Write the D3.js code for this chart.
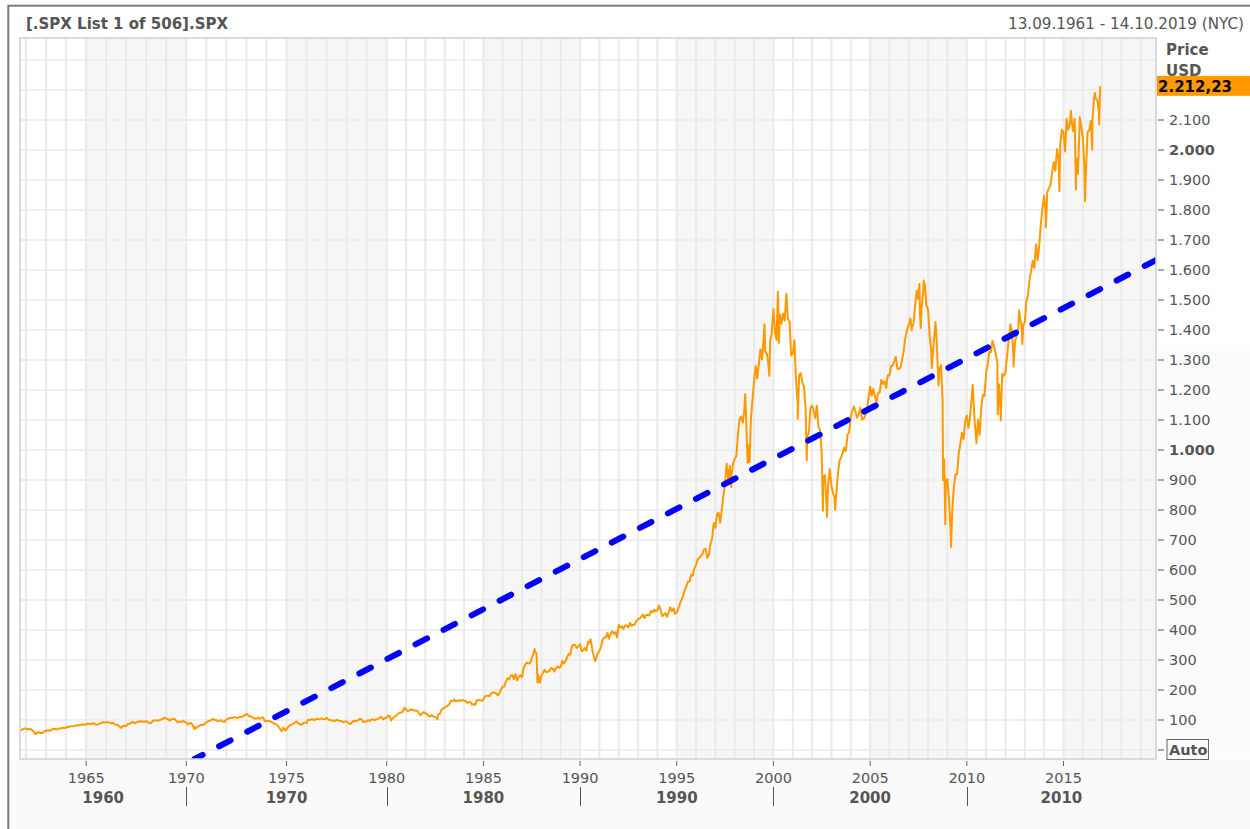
<!DOCTYPE html>
<html><head><meta charset="utf-8">
<script src="https://cdn.jsdelivr.net/npm/d3@7"></script>
<style>body{margin:0;background:#fff}svg{display:block}text{font-family:"DejaVu Sans",Verdana,sans-serif}</style>
</head><body><svg id="c" width="1250" height="829"></svg>
<script>
// ---------------- DATA ----------------
const titleText = "[.SPX List 1 of 506].SPX";
const dateRangeText = "13.09.1961 - 14.10.2019 (NYC)";
const axisTitle = ["Price", "USD"];
const lastValueText = "2.212,23";
const lastValue = 2212.23;
const yTickValues = [100,200,300,400,500,600,700,800,900,1000,1100,1200,1300,1400,1500,1600,1700,1800,1900,2000,2100,2200];
const yTickLabels = ["100","200","300","400","500","600","700","800","900","1.000","1.100","1.200","1.300","1.400","1.500","1.600","1.700","1.800","1.900","2.000","2.100","2.200"];
const yBoldTicks = [1000, 2000];
const minorYearTicks = [1965,1970,1975,1980,1985,1990,1995,2000,2005,2010,2015];
const decadeStarts = [1960,1970,1980,1990,2000,2010];
const decadeLabels = ["1960","1970","1980","1990","2000","2010"];
const shadedBandStarts = [1965,1975,1985,1995,2005,2015];
const dataStart = "1961-09-13";
const axisEnd = "2019-10-14";

// S&P 500 monthly closes, from Sep 1961
const close1960s = [66.73,68.62,71.32,71.55,
 68.84,69.96,69.55,65.24,59.63,54.75,58.23,59.12,56.27,56.52,62.26,63.10,
 66.20,64.29,66.57,69.80,70.80,69.37,69.13,72.50,71.70,74.01,73.23,75.02,
 77.04,77.80,78.98,79.46,80.37,81.69,83.18,81.83,84.18,84.86,84.42,84.75,
 87.56,87.43,86.16,89.11,88.42,84.12,85.25,87.17,89.96,92.42,91.61,92.43,
 92.88,91.22,89.23,91.06,86.13,84.74,83.60,77.10,76.56,80.20,80.45,80.33,
 86.61,86.78,90.20,94.01,89.08,90.64,94.75,93.64,96.71,93.90,94.00,96.47,
 92.24,89.36,90.20,97.59,98.68,99.58,97.74,98.86,102.67,103.41,108.37,103.86,
 103.01,98.13,101.51,103.69,103.46,97.71,91.83,95.51,93.12,97.24,93.81,92.06];
const close1970s = [
 85.02,89.50,89.63,81.52,76.55,72.72,78.05,81.52,84.21,83.25,87.20,92.15,
 95.88,96.75,100.31,103.95,99.63,99.70,95.58,99.03,98.34,94.23,93.99,102.09,
 103.94,106.57,107.20,107.67,109.53,107.14,107.39,111.09,110.55,111.58,116.67,118.05,
 116.03,111.68,111.52,106.97,104.95,104.26,108.22,104.25,108.43,108.29,95.96,97.55,
 96.57,96.22,93.98,90.31,87.28,86.00,79.31,72.15,63.54,73.90,69.97,68.56,
 76.98,81.59,83.36,87.30,91.15,95.19,88.75,86.88,83.87,89.04,91.24,90.19,
 100.86,99.71,102.77,101.64,100.18,104.28,103.44,102.91,105.24,102.90,102.10,107.46,
 102.03,99.82,98.42,98.44,96.12,100.48,98.85,96.77,96.53,92.34,94.83,95.10,
 89.25,87.04,89.21,96.83,97.24,95.53,100.68,103.29,102.54,93.15,94.70,96.11,
 99.93,96.28,101.59,101.76,99.08,102.91,103.81,109.32,109.32,101.82,106.16,107.94];
const close1980s = [
 114.16,113.66,102.09,106.29,111.24,114.24,121.67,122.38,125.46,127.47,140.52,135.76,
 129.55,131.27,136.00,132.81,132.59,131.21,130.92,122.79,116.18,121.89,126.35,122.55,
 120.40,113.11,111.96,116.44,111.88,109.61,107.09,119.51,120.42,133.71,138.54,140.64,
 145.30,148.06,152.96,164.42,162.39,168.11,162.56,164.40,166.07,163.55,166.40,164.93,
 163.41,157.06,159.18,160.05,150.55,153.18,150.66,166.68,166.10,166.09,163.58,167.24,
 179.63,181.18,180.66,179.83,189.55,191.85,190.92,188.63,182.08,189.82,202.17,211.28,
 211.78,226.92,238.90,235.52,247.35,250.84,236.12,252.93,231.32,243.98,249.22,242.17,
 274.08,284.20,291.70,288.36,290.10,304.00,318.66,329.80,321.83,251.79,230.30,247.08,
 257.07,267.82,258.89,261.33,262.16,273.50,272.02,261.52,271.91,278.97,273.70,277.72,
 297.47,288.86,294.87,309.64,320.52,317.98,346.08,351.45,349.15,340.36,345.99,353.40];
const close1990s = [
 329.08,331.89,339.94,330.80,361.23,358.02,356.15,322.56,306.05,304.00,322.22,330.22,
 343.93,367.07,375.22,375.35,389.83,371.16,387.81,395.43,387.86,392.45,375.22,417.09,
 408.79,412.70,403.69,414.95,415.35,408.14,424.21,414.03,417.80,418.68,431.35,435.71,
 438.78,443.38,451.67,440.19,450.19,450.53,448.13,463.56,458.93,467.83,461.79,466.45,
 481.61,467.14,445.77,450.91,456.50,444.27,458.26,475.49,462.69,472.35,453.69,459.27,
 470.42,487.39,500.71,514.71,533.40,544.75,562.06,561.88,584.41,581.50,605.37,615.93,
 636.02,640.43,645.50,654.17,669.12,670.63,639.95,651.99,687.31,705.27,757.02,740.74,
 786.16,790.82,757.12,801.34,848.28,885.14,954.31,899.47,947.28,914.62,955.40,970.43,
 980.28,1049.34,1101.75,1111.75,1090.82,1133.84,1120.67,957.28,1017.01,1098.67,1163.63,1229.23,
 1279.64,1238.33,1286.37,1335.18,1301.84,1372.71,1328.72,1320.41,1282.71,1362.93,1388.91,1469.25];
const close2000s = [
 1394.46,1366.42,1498.58,1452.43,1420.60,1454.60,1430.83,1517.68,1436.51,1429.40,1314.95,1320.28,
 1366.01,1239.94,1160.33,1249.46,1255.82,1224.38,1211.23,1133.58,1040.94,1059.78,1139.45,1148.08,
 1130.20,1106.73,1147.39,1076.92,1067.14,989.82,911.62,916.07,815.28,885.76,936.31,879.82,
 855.70,841.15,848.18,916.92,963.59,974.50,990.31,1008.01,995.97,1050.71,1058.20,1111.92,
 1131.13,1144.94,1126.21,1107.30,1120.68,1140.84,1101.72,1104.24,1114.58,1130.20,1173.82,1211.92,
 1181.27,1203.60,1180.59,1156.85,1191.50,1191.33,1234.18,1220.33,1228.81,1207.01,1249.48,1248.29,
 1280.08,1280.66,1294.83,1310.61,1270.09,1270.20,1276.66,1303.82,1335.85,1377.94,1400.63,1418.30,
 1438.24,1406.82,1420.86,1482.37,1530.62,1503.35,1455.27,1473.99,1526.75,1549.38,1481.14,1468.36,
 1378.55,1330.63,1322.70,1385.59,1400.38,1280.00,1267.38,1282.83,1166.36,968.75,896.24,903.25,
 825.88,735.09,797.87,872.81,919.14,919.32,987.48,1020.62,1057.08,1036.19,1095.63,1115.10];
const close2010s = [
 1073.87,1104.49,1169.43,1186.69,1089.41,1030.71,1101.60,1049.33,1141.20,1183.26,1180.55,1257.64,
 1286.12,1327.22,1325.83,1363.61,1345.20,1320.64,1292.28,1218.89,1131.42,1253.30,1246.96,1257.60,
 1312.41,1365.68,1408.47,1397.91,1310.33,1362.16,1379.32,1406.58,1440.67,1412.16,1416.18,1426.19,
 1498.11,1514.68,1569.19,1597.57,1630.74,1606.28,1685.73,1632.97,1681.55,1756.54,1805.81,1848.36,
 1782.59,1859.45,1872.34,1883.95,1923.57,1960.23,1930.67,2003.37,1972.29,2018.05,2067.56,2058.90,
 1994.99,2104.50,2067.89,2085.51,2107.39,2063.11,2103.84,1972.18,1920.03,2079.36,2080.41,2043.94,
 1940.24,1932.23,2059.74,2065.30,2096.95,2098.86,2173.60,2170.95,2168.27,2126.15];
// intra-month highs and lows visible on the chart
const extremeDates = ["1961-09-13","1962-06-26","1966-10-07","1970-05-26","1973-01-11","1974-10-03","1974-12-06","1978-03-06","1980-03-27","1982-08-12","1987-08-25","1987-10-19","1987-12-04","1990-07-16","1990-10-11","1997-10-27","1998-07-17","1998-10-08","1999-07-16","1999-10-15","2000-03-24","2000-04-14","2000-09-01","2001-04-04","2001-09-21","2002-07-23","2002-10-09","2003-03-11","2007-02-27","2007-07-19","2007-08-15","2007-10-09","2008-03-10","2008-05-19","2008-07-15","2008-10-10","2008-11-20","2009-03-09","2010-04-23","2010-07-02","2011-04-29","2011-08-08","2011-10-03","2012-04-02","2012-06-01","2012-09-14","2012-11-15","2014-02-03","2014-10-15","2015-05-21","2015-08-25","2015-11-03","2016-02-11","2016-06-27","2016-08-15","2016-11-04","2016-11-25"];
const extremeValues = [67.96,52.32,73.20,69.29,120.24,62.28,65.01,86.90,98.22,102.42,336.77,224.84,223.92,368.95,295.46,876.99,1186.75,959.44,1418.78,1247.41,1527.46,1356.56,1520.77,1103.25,965.80,797.70,776.76,800.73,1399.04,1553.08,1406.70,1565.15,1273.37,1426.63,1214.91,899.22,752.44,676.53,1217.28,1022.58,1363.61,1119.46,1099.23,1419.04,1278.04,1465.77,1353.33,1741.89,1862.49,2130.82,1867.61,2109.79,1829.08,2000.54,2190.15,2085.18,2212.23];
// trend line end points
const trendDates = ["1970-06-01","2019-10-14"];
const trendValues = [-30, 1633];

// ---------------- BUILD ----------------
const parse = d3.timeParse("%Y-%m-%d");
const monthly = [].concat(close1960s, close1970s, close1980s, close1990s, close2000s, close2010s);
let series = monthly.map((v, i) => {
  const m = 8 + i; // Sep 1961 = month index 8 of 1961
  return {date: new Date(1961 + Math.floor(m / 12), (m % 12) + 1, 0), value: v};
});
extremeDates.forEach((d, i) => series.push({date: parse(d), value: extremeValues[i]}));
series.sort((a, b) => a.date - b.date);

const W = 1250, H = 829;
const P = {l: 20, r: 1156, t: 38, b: 759};
const svg = d3.select("#c");

const x = d3.scaleTime()
  .domain([parse(dataStart), parse("1980-01-01"), parse(axisEnd)])
  .range([P.l, 386.7, P.r]);
const y = d3.scaleLinear().domain([0, 2000]).range([750, 150]);
const yr = v => parse(v + "-01-01");

// background
svg.append("rect").attr("width", W).attr("height", H).attr("fill", "#fff");
svg.append("rect").attr("x", 9).attr("y", P.b + 1).attr("width", W).attr("height", H - P.b).attr("fill", "#fafafa");
svg.append("rect").attr("x", P.r).attr("y", 345).attr("width", W - P.r).attr("height", P.b - 345).attr("fill", "#fcfcfc");

// outer frame
svg.append("rect").attr("x", 8.3).attr("y", 5.7).attr("width", W + 10).attr("height", H + 10)
  .attr("fill", "none").attr("stroke", "#7a7a7a").attr("stroke-width", 2);

// plot area
svg.append("rect").attr("x", P.l).attr("y", P.t).attr("width", P.r - P.l).attr("height", P.b - P.t).attr("fill", "#fff");
svg.append("defs").append("clipPath").attr("id", "pc")
  .append("rect").attr("x", P.l).attr("y", P.t).attr("width", P.r - P.l).attr("height", P.b - P.t);
const g = svg.append("g").attr("clip-path", "url(#pc)");

g.selectAll(".band").data(shadedBandStarts).join("rect")
  .attr("x", d => x(yr(d)))
  .attr("width", d => Math.min(x(yr(d + 5)), P.r) - x(yr(d)))
  .attr("y", P.t).attr("height", P.b - P.t).attr("fill", "#f6f6f6");

// horizontal grid
g.selectAll(".hg").data(d3.range(0, 2400, 100)).join("line")
  .attr("x1", P.l).attr("x2", P.r).attr("y1", d => y(d)).attr("y2", d => y(d))
  .attr("stroke", "#efefef").attr("stroke-width", 2);
// vertical yearly grid
g.selectAll(".vg").data(d3.range(1962, 2020)).join("line")
  .attr("x1", d => x(yr(d))).attr("x2", d => x(yr(d))).attr("y1", P.t).attr("y2", P.b)
  .attr("stroke", "#eaeaea").attr("stroke-width", 2);

// price line
g.append("path").datum(series)
  .attr("d", d3.line().x(d => x(d.date)).y(d => y(d.value)))
  .attr("fill", "none").attr("stroke", "#ff9900").attr("stroke-width", 2).attr("stroke-linejoin", "round");

// trend line
g.append("path").datum(trendDates.map((d, i) => ({date: parse(d), value: trendValues[i]})))
  .attr("d", d3.line().x(d => x(d.date)).y(d => y(d.value)))
  .attr("fill", "none").attr("stroke", "#0000ff").attr("stroke-width", 6)
  .attr("stroke-linecap", "round").attr("stroke-dasharray", "13,18.6").attr("stroke-dashoffset", 4);

// plot border
svg.append("rect").attr("x", P.l).attr("y", P.t).attr("width", P.r - P.l).attr("height", P.b - P.t)
  .attr("fill", "none").attr("stroke", "#d0d0d0").attr("stroke-width", 1.5);

// y axis (right)
const ya = svg.append("g").attr("transform", `translate(${P.r + 1},0)`);
ya.selectAll(".yt").data(yTickValues).join("line")
  .attr("x1", 1).attr("x2", 7).attr("y1", d => y(d)).attr("y2", d => y(d)).attr("stroke", "#555");
ya.selectAll(".yl").data(yTickValues).join("text")
  .attr("x", 12).attr("y", d => y(d)).attr("dy", "0.36em")
  .attr("font-size", 14.5).attr("fill", "#555")
  .attr("font-weight", d => yBoldTicks.includes(d) ? "bold" : "normal")
  .text((d, i) => yTickLabels[i]);
ya.append("line").attr("x1", 1).attr("x2", 7).attr("y1", y(0)).attr("y2", y(0)).attr("stroke", "#555");
const autoT = ya.append("text").attr("x", 12).attr("y", y(0)).attr("dy", "0.36em")
  .attr("font-size", 14.5).attr("font-weight", "bold").attr("fill", "#555").text("Auto");
const ab = autoT.node().getBBox();
ya.append("rect").attr("x", 10).attr("y", y(0) - 10.5).attr("width", ab.width + 3).attr("height", 20)
  .attr("fill", "none").attr("stroke", "#666").attr("stroke-width", 1);

// axis title
svg.append("text").attr("x", 1166).attr("y", 55).attr("font-size", 15).attr("font-weight", "bold").attr("fill", "#555").text(axisTitle[0]);
svg.append("text").attr("x", 1166).attr("y", 76).attr("font-size", 15).attr("font-weight", "bold").attr("fill", "#555").text(axisTitle[1]);

// last value box
svg.append("rect").attr("x", P.r + 1).attr("y", y(lastValue) - 10.5).attr("width", W - P.r).attr("height", 20).attr("fill", "#ff9900");
svg.append("text").attr("x", 1158).attr("y", y(lastValue)).attr("dy", "0.36em")
  .attr("font-size", 15).attr("font-weight", "bold").attr("fill", "#000").text(lastValueText);

// x axis
const xa = svg.append("g");
xa.selectAll(".xt").data(minorYearTicks).join("line")
  .attr("x1", d => x(yr(d))).attr("x2", d => x(yr(d))).attr("y1", P.b + 2).attr("y2", P.b + 7).attr("stroke", "#666");
xa.selectAll(".xl").data(minorYearTicks).join("text")
  .attr("x", d => x(yr(d))).attr("y", 783).attr("text-anchor", "middle")
  .attr("font-size", 14.5).attr("fill", "#555").text(d => d);
xa.selectAll(".ds").data(decadeStarts.filter(d => x(yr(d)) > P.l)).join("line")
  .attr("x1", d => Math.round(x(yr(d))) + 0.5).attr("x2", d => Math.round(x(yr(d))) + 0.5)
  .attr("y1", 787).attr("y2", 806).attr("stroke", "#555");
xa.selectAll(".dl").data(decadeStarts).join("text")
  .attr("x", d => (Math.max(x(yr(d)), P.l) + Math.min(x(yr(d + 10)), P.r)) / 2)
  .attr("y", 803).attr("text-anchor", "middle")
  .attr("font-size", 15).attr("font-weight", "bold").attr("fill", "#555")
  .text((d, i) => decadeLabels[i]);

// header
svg.append("text").attr("x", 26).attr("y", 29).attr("font-size", 15).attr("font-weight", "bold").attr("fill", "#555")
  .attr("textLength", 202).attr("lengthAdjust", "spacingAndGlyphs").text(titleText);
svg.append("text").attr("x", 1244).attr("y", 29).attr("text-anchor", "end").attr("font-size", 15).attr("fill", "#555")
  .attr("textLength", 236).attr("lengthAdjust", "spacingAndGlyphs").text(dateRangeText);
</script></body></html>
